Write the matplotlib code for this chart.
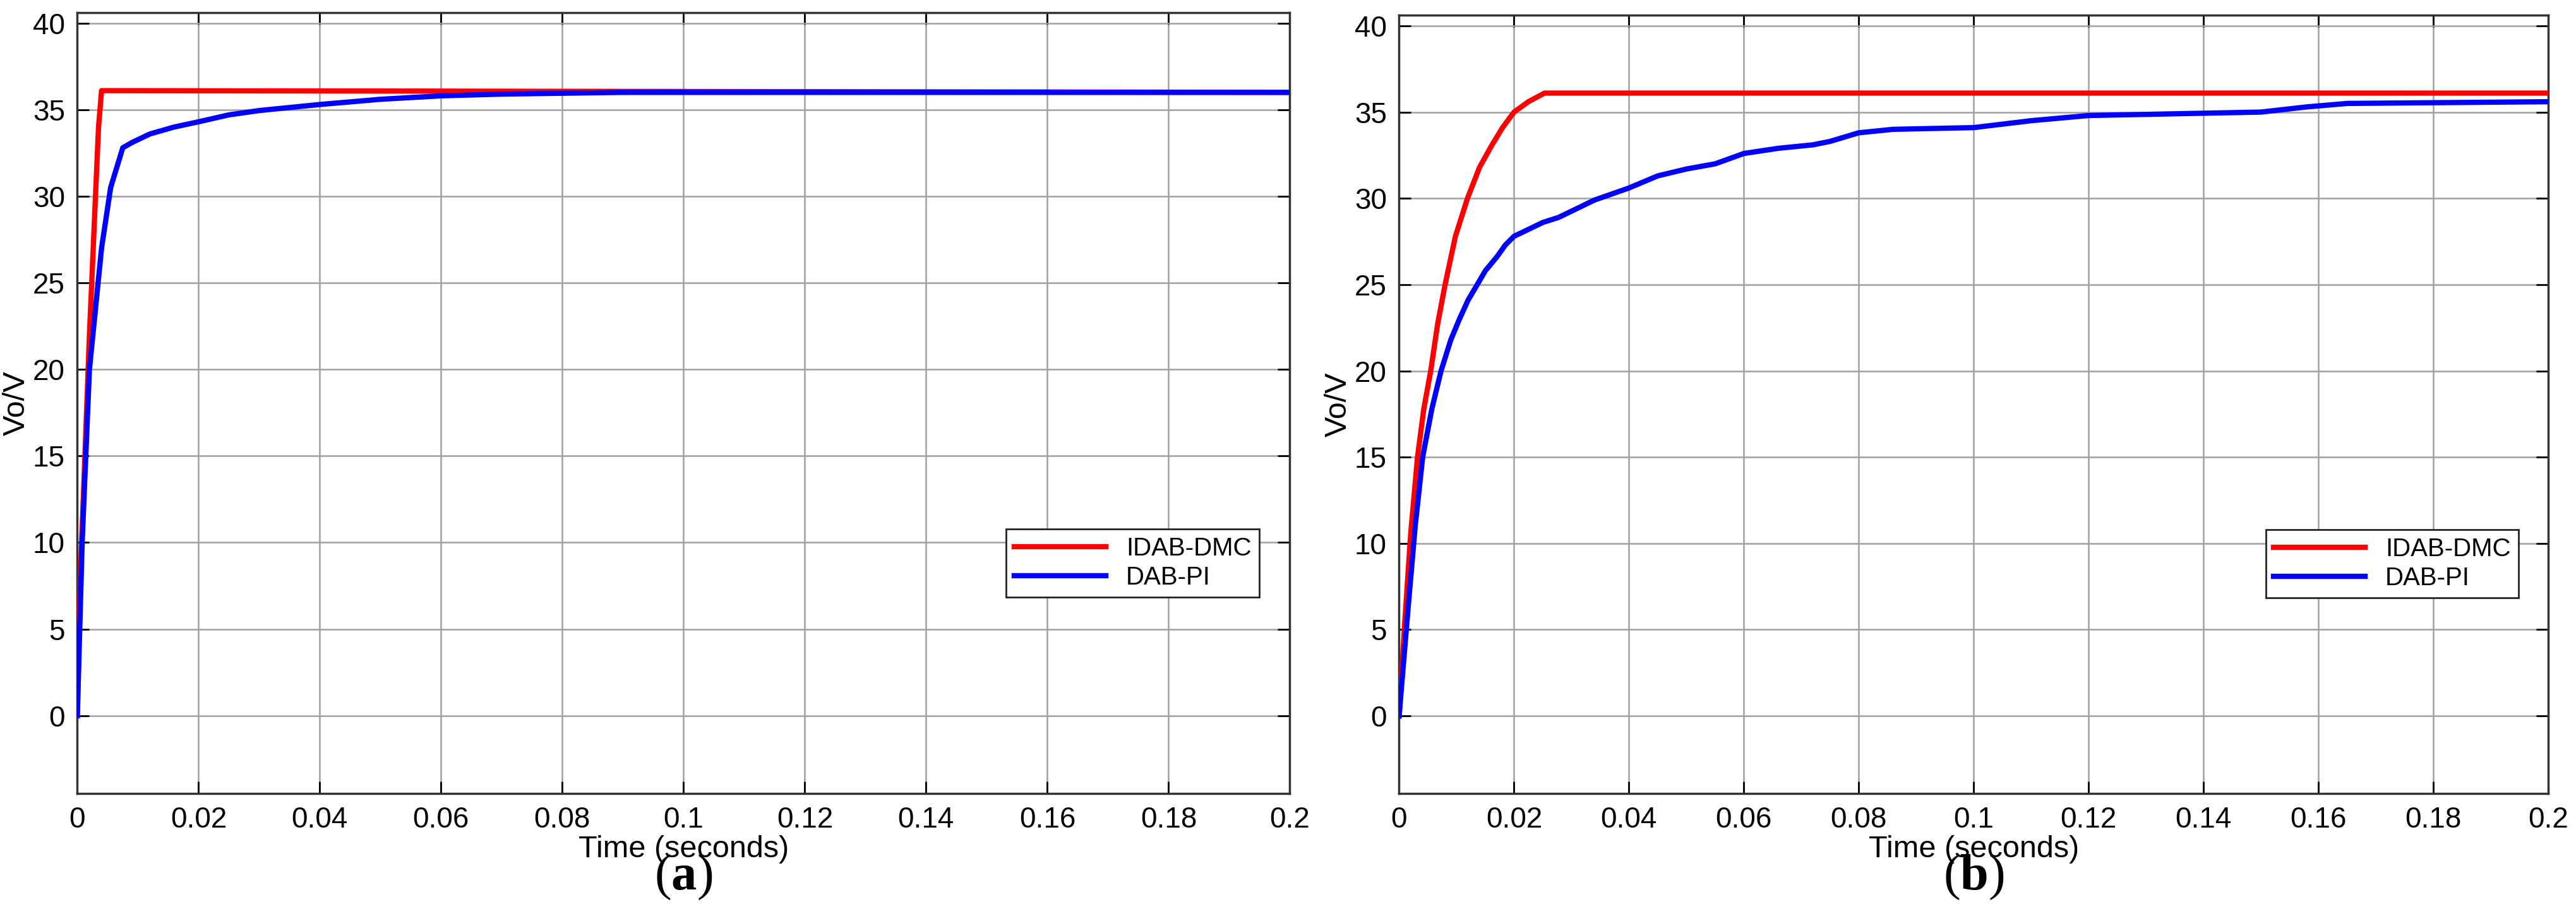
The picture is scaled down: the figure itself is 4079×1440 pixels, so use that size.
import matplotlib.pyplot as plt
import numpy as np

plt.rcParams['font.family'] = ['Liberation Sans', 'DejaVu Sans']
plt.rcParams['mathtext.fontset'] = 'custom'
plt.rcParams['mathtext.bf'] = 'Liberation Serif:bold'
plt.rcParams['mathtext.rm'] = 'Liberation Serif'

# panel (a)
t_a_dmc = [0, 0.0005, 0.002, 0.0035, 0.004, 0.2]
v_a_dmc = [0, 8, 22, 34, 36.1, 36.0]
t_a_pi = [0, 0.0008, 0.002, 0.004, 0.0055, 0.0075, 0.009, 0.012, 0.016, 0.02, 0.025, 0.03, 0.04, 0.05, 0.06,
          0.07, 0.09, 0.2]
v_a_pi = [0, 10, 20, 27, 30.5, 32.8, 33.1, 33.6, 34.0, 34.3, 34.7, 34.95, 35.3, 35.6, 35.8, 35.9, 36.0, 36.0]

# panel (b)
t_b_dmc = [0, 0.001, 0.002, 0.0032, 0.0043, 0.0055, 0.0067, 0.008, 0.0098, 0.0119, 0.014, 0.016, 0.018, 0.02,
           0.0225, 0.0253, 0.2]
v_b_dmc = [0, 5.5, 10.5, 15, 17.8, 20, 22.7, 25, 27.8, 30, 31.8, 33, 34.1, 35, 35.6, 36.1, 36.1]
t_b_pi = [0, 0.0015, 0.0028, 0.0041, 0.0057, 0.0073, 0.009, 0.0105, 0.012, 0.0136, 0.015, 0.017, 0.0185, 0.02,
          0.025, 0.0278, 0.034, 0.04, 0.045, 0.05, 0.055, 0.06, 0.066, 0.072, 0.075, 0.08, 0.086, 0.1, 0.11, 0.12,
          0.15, 0.158, 0.165, 0.2]
v_b_pi = [0, 6, 11, 15, 17.8, 20, 21.8, 23, 24.1, 25, 25.8, 26.6, 27.3, 27.8, 28.6, 28.9, 29.9, 30.6, 31.3, 31.7,
          32.0, 32.6, 32.9, 33.1, 33.3, 33.8, 34.0, 34.1, 34.5, 34.8, 35.0, 35.3, 35.5, 35.6]

labels = ['IDAB-DMC', 'DAB-PI']
xticks = np.arange(0, 0.201, 0.02)
xticklabels = ['0', '0.02', '0.04', '0.06', '0.08', '0.1', '0.12', '0.14', '0.16', '0.18', '0.2']

fig = plt.figure(figsize=(40.8, 14.4), dpi=100)
ax1 = fig.add_axes([0.030, 0.127, 0.4706, 0.859])
ax2 = fig.add_axes([0.543, 0.127, 0.446, 0.856])

panels = [(ax1, t_a_dmc, v_a_dmc, t_a_pi, v_a_pi, 'a'),
          (ax2, t_b_dmc, v_b_dmc, t_b_pi, v_b_pi, 'b')]
for ax, td, vd, tp, vp, tag in panels:
    ax.plot(td, vd, color='#ff0000', lw=6, label=labels[0], zorder=3)
    ax.plot(tp, vp, color='#0000ff', lw=6, label=labels[1], zorder=4)
    ax.set_xlim(0, 0.2)
    ax.set_ylim(-4.5, 40.6)
    ax.set_xticks(xticks)
    ax.set_xticklabels(xticklabels)
    ax.set_yticks(range(0, 41, 5))
    ax.grid(True, color='#a0a0a0', lw=1.8)
    ax.tick_params(direction='in', length=14, width=2, labelsize=33, top=True, right=True, pad=14)
    for s in ax.spines.values():
        s.set_linewidth(2.5)
        s.set_color('#333333')
    ax.set_xlabel('Time (seconds)', fontsize=35, labelpad=2)
    ax.set_ylabel('Vo/V', fontsize=35, labelpad=2)
    leg = ax.legend(loc='lower right', bbox_to_anchor=(0.985, 0.235), fontsize=29, frameon=True,
                    fancybox=False, edgecolor='#222222', framealpha=1, handlelength=3.6, borderpad=0.3,
                    labelspacing=0.2)
    leg.get_frame().set_linewidth(2)
    pos = ax.get_position()
    fig.text((pos.x0 + pos.x1) / 2, 0.035, r'$\mathrm{(}\mathbf{' + tag + r'}\mathrm{)}$', ha='center',
             va='center', fontsize=58)

fig.savefig('out.png', dpi=100)
